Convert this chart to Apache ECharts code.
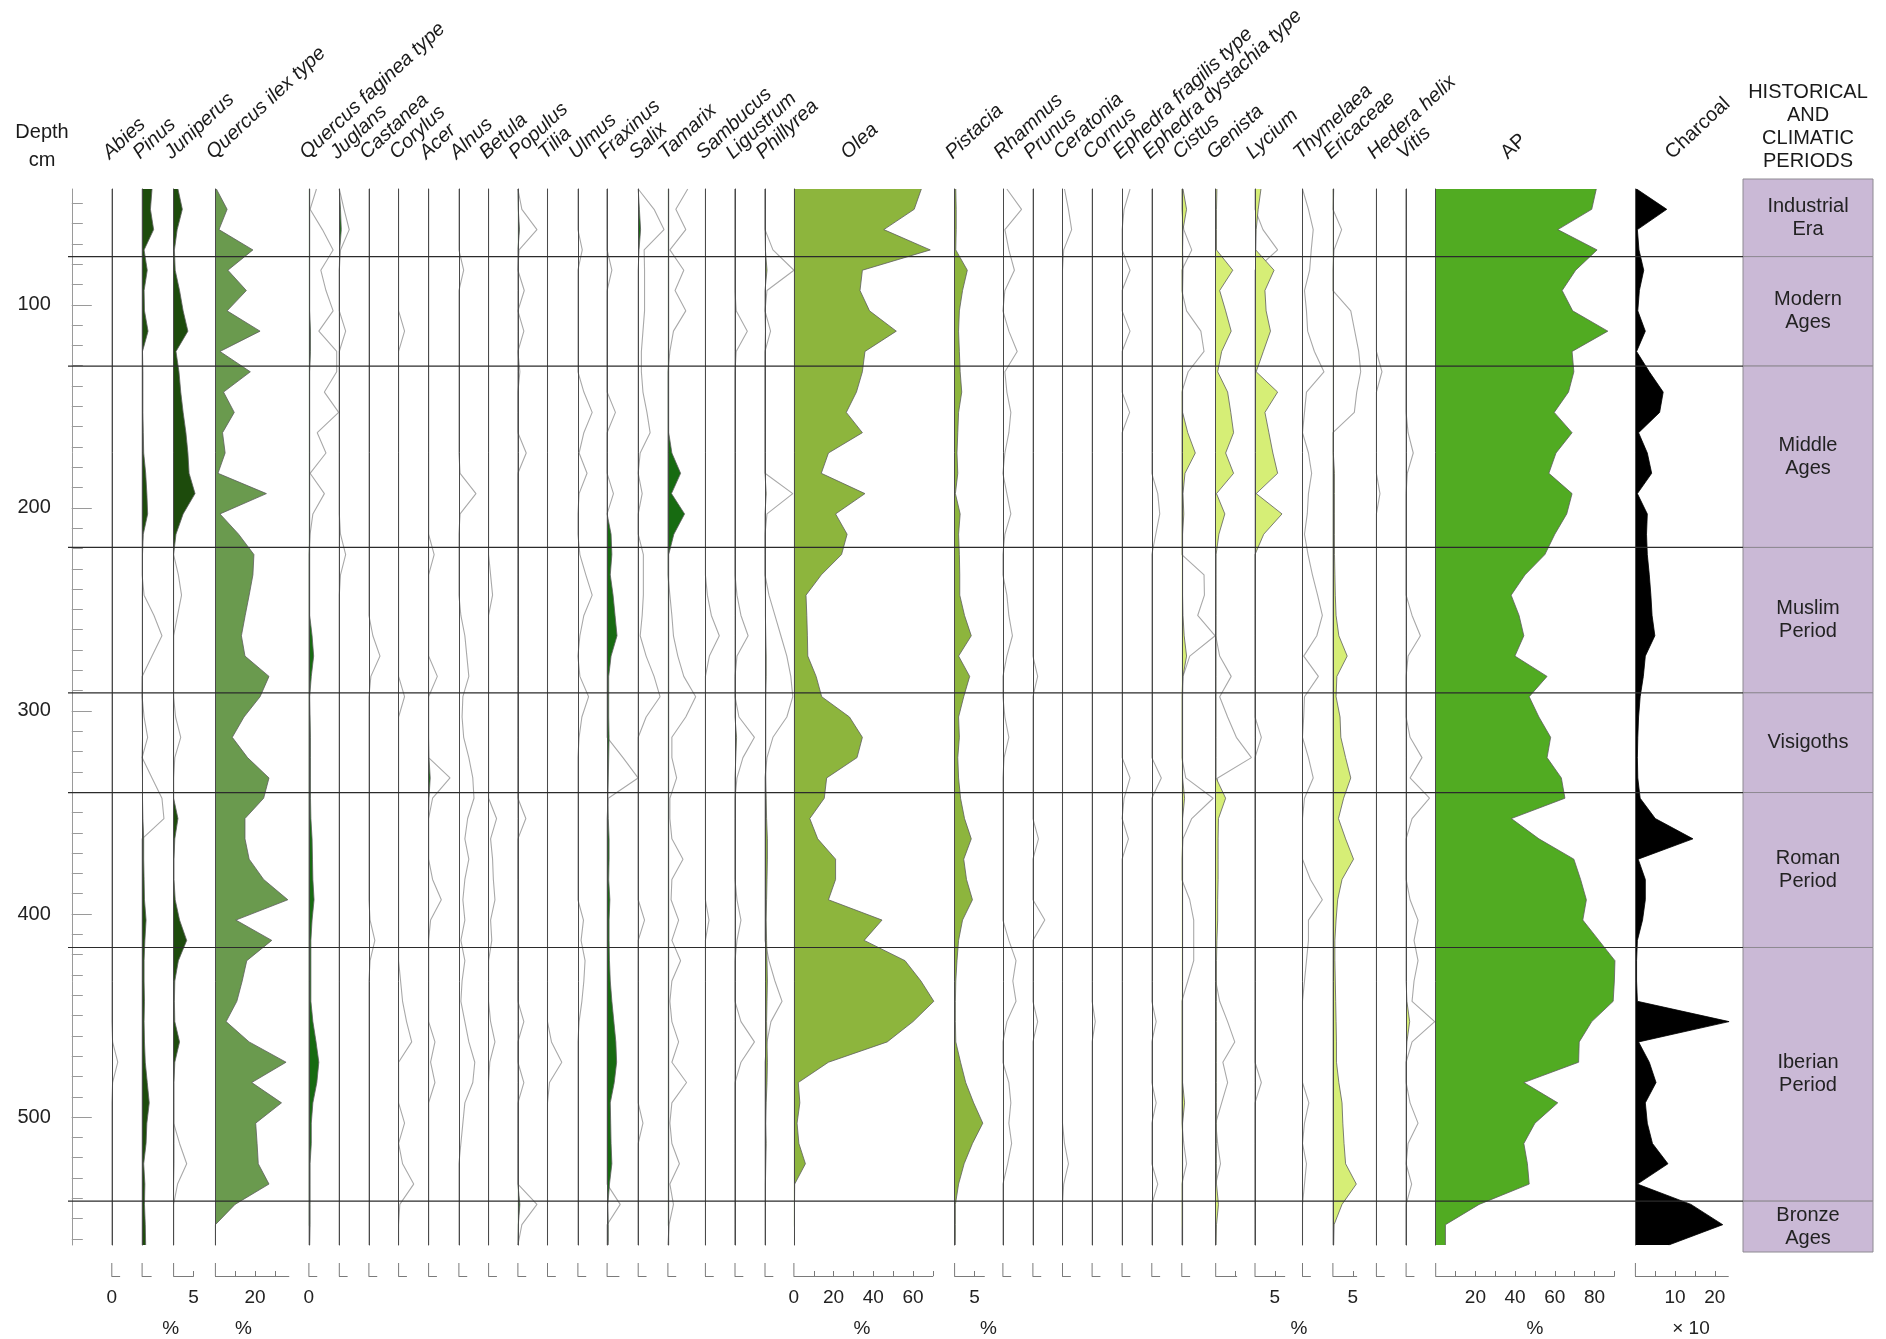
<!DOCTYPE html>
<html><head><meta charset="utf-8">
<script src="https://cdn.jsdelivr.net/npm/echarts@6/dist/echarts.min.js"></script>
<style>html,body{margin:0;padding:0;background:#fff}#c{width:1886px;height:1339px}</style>
</head><body><div id="c"></div>
<script>
// ---------------- DATA ----------------
// sample depths (cm)
const depths = [43,53,63,73,83,93,103,113,123,133, 143,153,163,173,183,193,203,213,223,233,
  243,253,263,273,283,293,303,313,323,333, 343,353,363,373,383,393,403,413,423,433,
  443,453,463,473,483,493,503,513,523,533, 543,553,563];
const depthLabels = [100,200,300,400,500];
// limits of historical / climatic periods (cm)
const boundaries = [76.3,130.2,219.5,291.1,340.2,416.5,541.4];
const periodNames = ['Industrial\nEra','Modern\nAges','Middle\nAges','Muslim\nPeriod','Visigoths','Roman\nPeriod','Iberian\nPeriod','Bronze\nAges'];

// percentages (fill curves)
const pinus = [2.5,2.1,2.9,0.5,1.3,0.5,0.6,1.5,0.1,0.2, 0.2,0.2,0.3,0.4,0.9,1.2,1.4,0.3,0.1,0.1,
  0.05,0.05,0.05,0.05,0.05,0,0.05,0.1,0,0.1, 0.1,0.2,0.4,0.4,0.5,0.6,1.0,0.7,0.5,0.5,
  0.6,0.5,0.6,0.8,1.3,1.8,1.2,1.0,0.4,0.7, 0.6,0.8,0.9];
const juniperus = [1.1,2.2,0.9,0.2,0.4,1.5,2.4,3.6,0.6,1.35, 1.8,2.4,3.1,3.6,3.9,5.4,2.4,0.6,0,0,
  0,0,0,0,0,0,0,0,0,0, 0,1.1,0.3,0.1,0.1,0.4,1.5,3.3,1.2,0.3,
  0.2,0.3,1.5,0.3,0.1,0.1,0.1,0.1,0.1,0, 0,0,0];
const quercusIlex = [0.5,5.9,1.8,18.9,6.3,15.6,5.9,22.5,2.3,17.6, 4.1,9.5,3.6,4.9,1.3,25.7,2.3,11.7,19.4,18.9,
  17,15,13.1,14.9,27,22.5,14.4,8.5,16.2,27, 24.3,14.9,14.9,17,24.3,36.5,10.3,28.4,15.8,13.5,
  10.8,5.4,17,35.6,18.3,33.3,20.3,21,21.6,27, 9.9,0,0];
const quercusFaginea = [0.2,0.2,0.2,0.2,0.2,0.2,0.2,0.4,0.4,0.2, 0.2,0.2,0.2,0.2,0.2,0.2,0.2,0.2,0.2,0.2,
  0.2,0.2,0.8,1.2,0.6,0.2,0.3,0.4,0.4,0.4, 0.4,0.5,0.8,0.9,1.0,1.3,0.8,0.5,0.5,0.5,
  0.5,1.0,1.8,2.5,2.0,1.0,0.6,0.6,0.3,0.3, 0.3,0.3,0.2];
const juglans = [0,0.3,0.5,0.1,0,0,0,0,0,0, 0,0,0,0,0,0,0,0,0,0, 0,0,0,0,0,0,0,0,0,0,
  0,0,0,0,0,0,0,0,0,0, 0,0,0,0,0,0,0,0,0,0, 0,0,0];
const acer = [0,0,0,0,0,0,0,0,0,0, 0,0,0,0,0,0,0,0,0,0, 0,0,0,0,0,0,0,0,0.1,0.4,
  0.1,0,0,0,0,0,0,0,0,0, 0,0,0,0,0,0,0,0,0,0, 0,0,0];
const populus = [0,0.1,0.4,0,0,0,0,0,0,0, 0,0,0,0,0,0,0,0,0,0, 0,0,0,0,0,0,0,0,0,0,
  0,0,0,0,0,0,0,0,0,0, 0,0,0,0,0,0,0,0,0,0, 0.5,0.1,0];
const fraxinus = [0,0,0,0,0,0,0,0,0,0, 0,0,0,0,0,0,0,1.0,1.2,0.8,
  1.5,2.0,2.5,1.0,0.4,0.4,0.4,0.5,0.4,0.3, 0.2,0.3,0.5,0.5,0.4,0.7,0.5,0.5,0.6,0.8,
  1.2,1.7,2.2,2.4,1.8,0.8,0.9,1.0,1.2,0.6, 0.2,0.3,0.3];
const salix = [0,0.3,0.6,0.2,0,0,0,0,0,0, 0,0,0,0,0,0,0,0,0,0, 0,0,0,0,0,0,0,0,0,0,
  0,0,0,0,0,0,0,0,0,0, 0,0,0,0,0,0,0,0,0,0, 0,0,0];
const tamarix = [0.2,0.2,0.2,0.2,0.2,0.2,0.2,0.2,0.2,0.2, 0.2,0.2,0.2,1.0,3.2,0.9,4.2,1.5,0.2,0.2,
  0.2,0.2,0.2,0.2,0.2,0.2,0.2,0.2,0.2,0.2, 0.2,0.2,0.2,0.2,0.2,0.2,0.2,0.2,0.2,0.2,
  0.2,0.2,0.2,0.2,0.2,0.2,0.2,0.2,0.2,0.2, 0.2,0.2,0.2];
const ligustrum = [0,0,0,0,0,0,0,0,0,0, 0,0,0,0,0,0,0,0,0,0, 0,0,0,0,0,0,0,0.4,0.2,0,
  0,0,0,0,0,0,0,0,0,0, 0,0,0,0,0,0,0,0,0,0, 0,0,0];
const phillyrea = [0,0,0,0.1,0.5,0,0,0.1,0,0, 0,0,0,0,0,0.3,0,0,0,0,
  0.1,0.1,0.2,0.3,0.3,0.2,0.2,0.2,0.2,0.2, 0.3,0.4,0.6,0.6,0.5,0.4,0.3,0.4,0.5,0.6,
  0.5,0.4,0.5,0.6,0.5,0.3,0.2,0.3,0.2,0.1, 0.1,0.1,0.1];
const olea = [64.2,60.6,45.3,68.7,34.5,33.3,38.1,51.6,35.8,34.5, 31.5,26.4,34.5,17.4,13.8,35.8,21,26.8,24,13.8,
  6.1,6.5,6.8,7,11.2,14,28,34.5,31.8,16.5, 15.3,8,12,21,21,17.4,44.4,35.4,56,64,
  70.5,60,47,17.4,2.2,3,1.6,2.5,5.8,0.4, 0.3,0.3,0.3];
const pistacia = [0.3,0.4,0.4,0.3,3.2,2.0,1.2,1.0,1.2,1.4, 1.8,1.0,0.8,0.6,0.8,0.2,1.4,1.0,1.2,1.3,
  1.3,2.5,4.2,1.0,3.8,2.3,1.0,1.2,0.8,1.0, 1.5,2.5,4.2,2.3,3.0,4.5,2.0,1.0,0.6,0.3,
  0.2,0.2,0.3,1.5,2.8,4.8,7.1,4.5,2.4,1.0, 0.2,0.2,0.2];
const cistus = [0.3,1.2,0.3,0.2,0.3,0.2,0.2,0.2,0.2,0.2, 0.2,0.2,1.5,3.4,0.8,0.3,0.5,0.2,0.2,0.2,
  0.2,0.3,0.6,1.2,0.3,0.2,0.2,0.2,0.2,0.2, 0.7,0.2,0.2,0.2,0.2,0.2,0.2,0.2,0.2,0.2,
  0.2,0.2,0.2,0.2,0.2,0.7,0.2,0.2,0.2,0.2, 0.2,0.2,0.2];
const genista = [0.3,0.2,0.2,0.2,4.3,1.0,2.5,3.9,1.5,0.5, 3.0,3.8,4.5,2.5,4.5,0.2,2.3,0.8,0.1,0.1,
  0.1,0.1,0.1,0.1,0.1,0.1,0.1,0.1,0.1,0.1, 2.5,0.7,0.6,0.6,0.6,0.5,0.5,0.3,0.2,0.2,
  0.2,0.2,0.2,0.2,0.2,0.2,0.2,0.2,0.2,0.2, 0.7,0.2,0.1];
const lycium = [1.5,0.8,0.3,0.2,4.8,2.5,2.8,3.9,2.1,0.3, 5.7,2.5,3.5,4.5,5.7,0.3,6.8,2.2,0,0,
  0,0,0,0,0,0,0,0,0,0, 0,0,0,0,0,0,0,0,0,0, 0,0,0,0,0,0,0,0,0,0, 0,0,0];
const ericaceae = [0.2,0.1,0.1,0.1,0.1,0.1,0.1,0.1,0.1,0.1, 0.1,0.1,0.1,0.1,0.4,0.4,0.4,0.4,0.4,0.5,
  0.6,0.8,1.5,3.6,1.0,0.8,1.8,2.0,3.2,4.5, 2.7,1.4,3.2,5.2,2.3,1.2,0.8,0.5,0.5,0.6,
  0.7,0.8,0.9,0.9,1.5,2.3,2.5,2.8,3.2,5.9, 2.3,0.3,0.2];
const vitis = [0,0,0,0,0,0,0,0,0,0, 0,0,0,0,0,0,0,0,0,0, 0,0,0,0,0,0,0,0,0,0,
  0,0,0,0,0,0,0,0,0,0, 0.2,0.9,0.2,0,0,0,0,0,0,0, 0,0,0];
const ap = [80.9,78.6,61.5,81.3,70.5,63.7,69,86.7,68.7,69.6, 66.9,59.7,68.7,60.6,57,68.7,66,60,55,45,
  38,42,44.4,39.9,56.1,47.1,52,57.9,56.1,63.3, 65.1,38.1,52,69.6,73,75.9,74.1,82.2,90.3,90,
  89.4,78.6,72.3,72,44.4,61.5,50,44.4,46.2,47.1, 21.9,4.9,4.9];
// charcoal (x 10)
const charcoal = [0.3,7.9,0.5,0.9,2.1,1.0,0.6,2.5,0.3,3.5, 7.0,6.1,0.8,3.0,4.1,0.5,3.0,2.8,3.0,3.5,
  3.9,4.2,4.9,2.5,2.0,1.2,0.8,0.6,0.5,0.6, 1.2,5.0,14.5,0.7,2.5,2.5,1.8,0.5,0.3,0.3,
  0.5,23.6,0.8,3.5,5.2,2.5,3.0,4.3,8.2,0.5, 14,22,8.4];

// exaggerated curves (grey outlines)
const abiesEx = [0,0,0,0,0,0,0,0,0,0, 0,0,0,0,0,0,0,0,0,0, 0,0,0,0,0,0,0,0,0,0,
  0,0,0,0,0,0,0,0,0,0, 0,0,0.2,1.5,0.2,0,0,0,0,0, 0,0,0];
const pinusEx = [0,0,0,0,0,0,0,0,0,0, 0,0,0,0,0,0,0,0,0,0, 0.5,3,5,2.5,0,0,0.5,1.4,0,2.5,
  5,5.5,0,0,0,0,0,0,0,0, 0,0,0,0,0,0,0,0,0,0, 0,0,0];
const juniperusEx = [0,0,0,0,0,0,0,0,0,0, 0,0,0,0,0,0,0,0,0,1.2, 2.0,1.0,0,0,0,0,0.5,1.8,0.3,0,
  0,0,0,0,0,0,0,0,0,0, 0,0,0,0,0,0,0,1.5,3.3,1.0, 0,0,0];
const quercusFagineaEx = [1.9,0.3,3.4,6.1,3.0,4.3,6.1,2.5,7.0,7.0, 3.9,7.5,2.1,4.3,0.3,3.9,1.0,0.3,0,0,
  0,0,0,0,0,0,0,0,0,0, 0,0,0,0,0,0,0,0,0,0, 0,0,0,0,0,0,0,0,0,0, 0,0,0];
const juglansEx = [0,1.2,2.5,0.3,0,0,0,1.6,0,0, 0,0,0,0,0,0,0,0.3,1.6,0.3, 0,0,0,0,0,0,0,0,0,0,
  0,0,0,0,0,0,0,0,0,0, 0,0,0,0,0,0,0,0,0,0, 0,0,0];
const castaneaEx = [0,0,0,0,0,0,0,0,0,0, 0,0,0,0,0,0,0,0,0,0, 0,0,1.0,2.8,0.5,0,0,0,0,0,
  0,0,0,0,0,0,0.3,1.5,0.3,0, 0,0,0,0,0,0,0,0,0,0, 0,0,0];
const corylusEx = [0,0,0,0,0,0,0,1.5,0,0, 0,0,0,0,0,0,0,0,0,0, 0,0,0,0,0,1.5,0,0,0,0,
  0,0,0,0,0,0,0,0,0,0.5, 1.0,2.0,3.3,0,0,0,1.5,0,1.0,3.8, 0.3,0,0];
const acerEx = [0,0,0,0,0,0,0,0,0,0, 0,0,0,0,0,0,0,0,1.4,0, 0,0,0,0,2.2,0,0,0,0,5.4,
  1.0,0,0,0,1.0,3.2,0.5,0,0,0, 0,0,1.6,0.5,1.6,0,0,0,0,0, 0,0,0];
const alnusEx = [0,0,0,0,1.2,0,0,0,0,0, 0,0,0,0,0.3,4.3,0.3,0,0,0, 0,0.5,1.5,2.0,2.5,1.0,0.8,1.2,2.5,3.5,
  3.8,2.2,1.5,2.5,1.5,1.0,1.5,0.5,1.5,0.8, 0.5,1.5,2.5,4.0,3.5,1.5,1.0,0.5,0,0, 0,0,0];
const betulaEx = [0,0,0,0,0,0,0,0,0,0, 0,0,0,0,0,0,0,0,0,0.5, 1.0,0,0,0,0,0,0,0,0,0,
  0,2.0,0.5,1.0,1.2,1.6,0.5,0.8,0,0, 0,0.5,1.6,0.3,0,0,0,0,0,0, 0,0,0];
const populusEx = [0,1.0,4.8,0.3,0,1.6,0,1.5,0,0.5, 0,0,0,2.1,0,0,0,0,0,0, 0,0,0,0,0,0,0,0,0,0,
  0,2.0,0,0,0,0,0,0,0,0, 0,1.5,0,0,1.5,0,0,0,0,0, 4.8,1.0,0];
const tiliaEx = [0,0,0,0,0,0,0,0,0,0, 0,0,0,0,0,0,0,0,0,0, 0,0,0,0,0,0,0,0,0,0,
  0,0,0,0,0,0,0,0,0,0, 0,0,1.0,3.6,0.5,0,0,0,0,0, 0,0,0];
const ulmusEx = [0,0,0,1.1,0,0,0,0,0,0, 1.5,3.6,1.5,0.3,2.3,0.3,0,0,0.5,2.0, 3.6,1.5,0.5,0,0.5,2.7,1.0,0.3,0,0,
  0,0,0,0,0,0,1.4,0.8,1.8,1.5, 1.0,0.3,0,0,0,0,0,0,0,0, 0,0,0];
const fraxinusEx = [0,0,0,0,1.2,0,0,0,0,0, 0,2.1,0,0,0,1.6,0,0,0,0, 0,0,0,0,0,0,0,0,4.0,7.8,
  0.3,0,0,0,0,0,0,0,0,0, 0,0,0,0,0,0,0,0,0,0, 3.3,0,0];
const salixEx = [0,4.0,6.5,1.5,1.6,1.6,1.6,1.2,0.8,0.8, 1.2,2.2,3.0,0.5,0,1.0,0,0,1.3,1.3,
  1.3,1.0,0.5,2.0,4.0,5.5,2.0,0,0,0, 0,0,0,0,0,0,1.6,0,0,0, 0,0,0,0,0,0,1.2,0,0,0, 0,0,0];
const tamarixEx = [5.0,2.0,4.5,0.5,4.0,1.8,4.5,1.4,0.5,0, 0,0,0,0,0,0,0,0,0,0,
  0.5,1.0,1.4,2.5,4.0,7.0,4.5,1.0,1.0,2.2, 0.5,0.5,1.0,3.8,1.0,0.8,2.7,1.0,3.2,1.0,
  0.5,1.0,2.7,1.0,4.7,1.0,0.5,1.0,2.9,0.5, 1.4,0.3,0];
const sambucusEx = [0,0,0,0,0,0,0,0,0,0, 0,0,0,0,0,0,0,0,0,0, 0.5,1.5,3.5,1.0,0,0,0,0,0,0,
  0,0,0,0,0,0,0.9,0,0,0, 0,0,0,0,0,0,0,0,0,0, 0,0,0];
const ligustrumEx = [0,0,0,0,0,0,0.3,3.1,0.3,0, 0,0,0,0,0,0,0,0,0,0, 0.5,1.5,3.3,0.5,0,0,1.0,4.9,2.0,0.5,
  0,0,0,0,0,0.5,1.5,0.5,0,0, 0,1.5,4.9,1.5,0,0,0,0,0,0, 0,0,0];
const phillyreaEx = [0,0,0,2.0,7.3,0.5,0,1.4,0,0, 0,0,0,0,0,7.0,0.5,0,0,0,
  1.0,2.5,4.0,5.5,6.5,7.0,5.5,2.0,0.5,0, 0,0,0,0,0,0,0,0,1.0,2.5, 4.3,1.5,0.5,0,0,0,0,0,0,0, 0,0,0];
const rhamnusEx = [1.0,4.7,0.5,1.5,2.9,0.5,0,1.5,3.6,0.5, 1.0,2.0,1.5,0.5,0,1.0,2.0,0.5,0,0,
  1.0,1.5,2.4,1.0,0,0,0.5,1.5,0.3,0, 0,0,0,0,0,0,0,1.5,3.3,2.5, 3.3,1.0,0,0,1.5,2.0,1.5,2.2,1.2,0, 0,0,0];
const prunusEx = [0,0,0,0,0,0,0,0,0,0, 0,0,0,0,0,0,0,0,0,0, 0,0,0,0,1.2,0,0,0,0,0,
  0,0,1.4,0,0,0,3.0,0,0,0, 0,1.2,0,0,0,0,0,0,0,0, 0,0,0];
const ceratoniaEx = [0.5,1.5,2.3,0.3,0,0,0,0,0,0, 0,0,0,0,0,0,0,0,0,0, 0,0,0,0,0,0,0,0,0,0,
  0,0,0,0,0,0,0,0,0,0, 0,0,0,0,0,0,0,0.5,1.5,0.3, 0,0,0];
const cornusEx = [0,0,0,0,0,0,0,0,0,0, 0,0,0,0,0,0,0,0,0,0, 0,0,0,0,0,0,0,0,0,0,
  0,0,0,0,0,0,0,0,0,0, 0,0.8,0,0,0,0,0,0,0,0, 0,0,0];
const ephedraFragilisEx = [2.0,0.5,0,0,2.0,0,0,2.0,0,0, 0,1.9,0,0,0,0,0,0,0,0, 0,0,0,0,0,0,0,0,0,2.0,
  0.5,0,1.6,0,0,0,0,0,0,0, 0,0,0,0,0,0,0,0,0,0, 0,0,0];
const ephedraDystachiaEx = [0,0,0,0,0,0,0,0,0,0, 0,0,0,0,0,1.5,2.0,1.0,0,0, 0,0,0,0,0,0,0,0,0,2.4,
  0,0,0,0,0,0,0,0,0,0, 0,1.1,0,0,0,1.1,0,0,0,1.5, 0,0,0];
const cistusEx = [0,0,0.5,2.5,0,0,1.2,4.8,5.6,1.6, 0,0,0,0,0,0,0,0,0,5.6,
  5.7,4.0,8.4,2.0,0.3,0,0,0,0,1.0, 7.9,2.5,0.3,0,0,2.0,3.0,3.0,3.0,1.5, 0,0,0,0,0,0,0,0.5,1.2,0, 0,0,0];
const genistaEx = [0,0,0,0,0,0,0,0,0,0, 0,0,0,0,0,0,0,0,0,0, 0,0,0,1.0,3.9,1.0,3.0,5.2,9.0,0.5,
  0,0,0,0,0,0,0,0,0,0, 1.0,3.0,4.8,1.8,3.0,1.5,0,0.5,1.2,0, 0,0,0];
const lyciumEx = [0,0,2.0,5.7,0,0,0,0,0,0, 0,0,0,0,0,0,0,0,0,0, 0,0,0,0,0,0,0,1.6,0,0,
  0,0,0,0,0,0,0,0,0,0, 0,0,0,0,1.6,0,0,0,0,0, 0,0,0];
const thymelaeaEx = [0,1.5,2.7,2.2,1.8,0.5,1.0,1.3,3.0,5.4, 1.0,0.5,0,1.5,2.3,1.5,1.2,0.5,1.4,2.5,
  3.8,5.0,3.6,0.3,4.0,0.5,0.3,0,1.5,2.7, 0.5,0,0,0,2.0,5.0,1.5,1.5,1.0,0.5, 0,0,0,0,0,1.6,0.5,0,1.0,0.5, 0,0,0];
const ericaceaeEx = [0,0,2.2,0.3,0,0,4.5,5.5,6.5,7.0, 6.0,5.4,0,0,0,0,0,0,0,0, 0,0,0,0,0,0,0,0,0,0,
  0,0,0,0,0,0,0,0,0,0, 0,0,0,0,0,0,0,0,0,0, 0,0,0];
const hederaEx = [0,0,0,0,0,0,0,0,0,1.4, 0,0,0,0,0,0.9,0,0,0,0, 0,0,0,0,0,0,0,0,0,0,
  0,0,0,0,0,0,0,0,0,0, 0,0,0,0,0,0,0,0,0,0, 0,0,0];
const vitisEx = [0,0,0,0,0,0,0,0,0,0, 0,0,0.5,1.8,0.3,0,0,0,0,0, 0,1.5,3.6,0.5,0,0,0,1.0,4.0,1.0,
  5.9,1.5,0,0,0,1.0,3.0,2.0,3.0,2.0, 1.5,7.2,1.5,0,0,1.0,3.0,0.5,0,1.4, 0,0,0];

// ---------------- LAYOUT ----------------
const FONT = '"Liberation Sans", Arial, Helvetica, sans-serif';
const TOP = 189, PLOT_H = 1056, AXIS_OFFSET = 31;
const MINOR = 3.97, MAJOR = 1.985;
const C_DARK = '#1d4b0c', C_QI = '#6a9a4e', C_MID = '#176b11', C_OLIVE = '#8db53d',
      C_LIGHT = '#d6ee76', C_AP = '#51ab22', C_CHAR = '#000000';
const S = {px: MINOR, max: 2, iv: 5};
const columns = [
  {name:'Abies', x:111.8, ...S, labels:[0], ex:abiesEx},
  {name:'Pinus', x:142.1, ...S, max:2.3, fill:pinus, color:C_DARK, ex:pinusEx},
  {name:'Juniperus', x:173.6, ...S, max:5, fill:juniperus, color:C_DARK, ex:juniperusEx, ticks:true, labels:[5]},
  {name:'Quercus ilex type', x:215.4, px:MAJOR, max:37, iv:10, ticks:true, labels:[20], fill:quercusIlex, color:C_QI},
  {name:'Quercus faginea type', x:308.9, ...S, labels:[0], fill:quercusFaginea, color:C_MID, ex:quercusFagineaEx},
  {name:'Juglans', x:339.3, ...S, fill:juglans, color:C_MID, ex:juglansEx},
  {name:'Castanea', x:368.9, ...S, ex:castaneaEx},
  {name:'Corylus', x:398.6, ...S, ex:corylusEx},
  {name:'Acer', x:428.6, ...S, fill:acer, color:C_MID, ex:acerEx},
  {name:'Alnus', x:458.9, ...S, ex:alnusEx},
  {name:'Betula', x:488.6, ...S, ex:betulaEx},
  {name:'Populus', x:517.9, ...S, fill:populus, color:C_MID, ex:populusEx},
  {name:'Tilia', x:547.5, ...S, ex:tiliaEx},
  {name:'Ulmus', x:577.9, ...S, ex:ulmusEx},
  {name:'Fraxinus', x:607.1, ...S, max:3, fill:fraxinus, color:C_MID, ex:fraxinusEx},
  {name:'Salix', x:638.2, ...S, fill:salix, color:C_MID, ex:salixEx},
  {name:'Tamarix', x:667.9, ...S, fill:tamarix, color:C_MID, ex:tamarixEx},
  {name:'Sambucus', x:705.4, ...S, ex:sambucusEx},
  {name:'Ligustrum', x:735.0, ...S, fill:ligustrum, color:C_OLIVE, ex:ligustrumEx},
  {name:'Phillyrea', x:765.0, ...S, fill:phillyrea, color:C_OLIVE, ex:phillyreaEx},
  {name:'Olea', x:793.9, px:MAJOR, max:70, iv:10, ticks:true, labels:[0,20,40,60], fill:olea, color:C_OLIVE, dx:57},
  {name:'Pistacia', x:954.6, ...S, max:7.5, ticks:true, labels:[5], fill:pistacia, color:C_OLIVE},
  {name:'Rhamnus', x:1002.9, ...S, ex:rhamnusEx},
  {name:'Prunus', x:1032.9, ...S, ex:prunusEx},
  {name:'Ceratonia', x:1062.5, ...S, ex:ceratoniaEx},
  {name:'Cornus', x:1092.1, ...S, ex:cornusEx},
  {name:'Ephedra fragilis type', x:1122.1, ...S, ex:ephedraFragilisEx},
  {name:'Ephedra dystachia type', x:1151.8, ...S, ex:ephedraDystachiaEx},
  {name:'Cistus', x:1181.8, ...S, fill:cistus, color:C_LIGHT, ex:cistusEx},
  {name:'Genista', x:1215.7, ...S, max:5.3, ticks:true, fill:genista, color:C_LIGHT, ex:genistaEx},
  {name:'Lycium', x:1255.0, ...S, max:7.5, ticks:true, labels:[5], fill:lycium, color:C_LIGHT, ex:lyciumEx},
  {name:'Thymelaea', x:1302.5, ...S, ex:thymelaeaEx},
  {name:'Ericaceae', x:1332.9, ...S, max:6, ticks:true, labels:[5], fill:ericaceae, color:C_LIGHT, ex:ericaceaeEx},
  {name:'Hedera helix', x:1376.4, ...S, ex:hederaEx},
  {name:'Vitis', x:1406.1, ...S, fill:vitis, color:C_LIGHT, ex:vitisEx},
  {name:'AP', x:1435.7, px:MAJOR, max:90, iv:10, ticks:true, labels:[20,40,60,80], fill:ap, color:C_AP, dx:75, upright:true},
  {name:'Charcoal', x:1635.4, px:MINOR, max:23.4, iv:5, ticks:true, labels:[10,20], fill:charcoal, color:C_CHAR, dx:40, upright:true}
];
const unitLabels = [
  {t:'%', x:170.8}, {t:'%', x:243.5}, {t:'%', x:862}, {t:'%', x:988.5},
  {t:'%', x:1299}, {t:'%', x:1535}, {t:'\u00d7 10', x:1691}
];

// ---------------- BUILD ----------------
const grids = [], xAxes = [], yAxes = [], series = [], gfx = [];
const ROT = 43 * Math.PI / 180;

columns.forEach((c, k) => {
  grids.push({left: c.x, top: TOP, width: c.px * c.max, height: PLOT_H});
  const ticks = [];
  if (c.ticks) for (let v = c.iv; v <= c.max + 1e-9; v += c.iv) ticks.push(v);
  xAxes.push({
    gridIndex: k, type: 'value', min: 0, max: c.max, position: 'bottom', offset: AXIS_OFFSET,
    axisLine: {show: true, onZero: false, lineStyle: {color: '#7a7a7a', width: 1}},
    axisTick: c.ticks ? {show: true, inside: true, length: 5, customValues: ticks, lineStyle: {color: '#7a7a7a'}} : {show: false},
    axisLabel: c.labels ? {show: true, customValues: c.labels, margin: 12, fontSize: 19, color: '#222', fontFamily: FONT} : {show: false},
    splitLine: {show: false}
  });
  yAxes.push({
    gridIndex: k, type: 'category', data: depths, inverse: true, boundaryGap: false, z: 6,
    axisLine: {show: true, lineStyle: {color: '#4a4a4a', width: 1}},
    axisTick: {show: false}, axisLabel: {show: false}, splitLine: {show: false}
  });
  if (c.ex) series.push({
    type: 'line', xAxisIndex: k, yAxisIndex: k, data: c.ex, symbol: 'none', clip: false, silent: true, z: 2,
    lineStyle: {color: '#a9a9a9', width: 1.1}
  });
  if (c.fill) series.push({
    type: 'line', xAxisIndex: k, yAxisIndex: k, data: c.fill, symbol: 'none', clip: false, silent: true, z: 3,
    lineStyle: {color: c.color === C_CHAR ? '#000' : '#5e5e5e', width: 0.8},
    areaStyle: {color: c.color, opacity: 1}
  });
  // taxon title
  gfx.push({type: 'text', x: c.x + (c.dx !== undefined ? c.dx : 1), y: 163, rotation: ROT, z: 50,
    style: {text: c.name, x: 0, y: 0, textAlign: 'left', textVerticalAlign: 'bottom',
      font: (c.upright ? '' : 'italic ') + '20px ' + FONT, fill: '#1a1a1a'}});
  // zero mark of the bottom scale
  const yAx = TOP + PLOT_H + AXIS_OFFSET;
  gfx.push({type: 'line', z: 50, shape: {x1: c.x, y1: yAx - 13, x2: c.x, y2: yAx}, style: {stroke: '#7a7a7a', lineWidth: 1}});
});

// depth axis
let gi = columns.length;
const minorTicks = [];
for (let d = 50; d <= 560; d += 10) minorTicks.push(d);
grids.push({left: 71.8, top: TOP, width: 1, height: PLOT_H});
xAxes.push({gridIndex: gi, type: 'value', min: 0, max: 1, show: false});
yAxes.push({gridIndex: gi, type: 'value', min: 43, max: 563, inverse: true, position: 'left',
  axisLine: {show: true, lineStyle: {color: '#9a9a9a', width: 1}},
  axisTick: {show: true, inside: true, length: 11, customValues: minorTicks, lineStyle: {color: '#9a9a9a'}},
  axisLabel: {show: false}, splitLine: {show: false}});
yAxes.push({gridIndex: gi, type: 'value', min: 43, max: 563, inverse: true, position: 'left',
  axisLine: {show: false},
  axisTick: {show: true, inside: true, length: 20, customValues: depthLabels, lineStyle: {color: '#9a9a9a'}},
  axisLabel: {show: true, customValues: depthLabels, margin: 21, fontSize: 20, color: '#222', fontFamily: FONT},
  splitLine: {show: false}});
series.push({type: 'line', xAxisIndex: gi, yAxisIndex: yAxes.length - 1, data: [], silent: true});

// period boundary lines
gi++;
grids.push({left: 68, right: 143, top: TOP, height: PLOT_H});
xAxes.push({gridIndex: gi, type: 'value', min: 0, max: 1, show: false});
yAxes.push({gridIndex: gi, type: 'value', min: 43, max: 563, inverse: true, show: false});
const bIdx = yAxes.length - 1;
boundaries.forEach(b => series.push({
  type: 'line', xAxisIndex: xAxes.length - 1, yAxisIndex: bIdx, data: [[0, b], [1, b]],
  symbol: 'none', silent: true, z: 10, lineStyle: {color: '#2b2b2b', width: 1.2}
}));

// periods column
gi++;
grids.push({left: 1743, top: 179, width: 130, height: 1073});
xAxes.push({gridIndex: gi, type: 'value', min: 0, max: 1, show: false});
yAxes.push({gridIndex: gi, type: 'value', min: 38.08, max: 566.45, inverse: true, show: false});
series.push({
  type: 'custom', xAxisIndex: xAxes.length - 1, yAxisIndex: yAxes.length - 1, silent: true, z: 4,
  data: periodNames.map((n, i) => [0, i]),
  renderItem: (params, api) => {
    const i = params.dataIndex, cs = params.coordSys;
    const yTop = i === 0 ? cs.y : api.coord([0, boundaries[i - 1]])[1];
    const yBot = i === periodNames.length - 1 ? cs.y + cs.height : api.coord([0, boundaries[i]])[1];
    return {type: 'group', children: [
      {type: 'rect', shape: {x: cs.x, y: yTop, width: cs.width, height: yBot - yTop},
        style: {fill: '#cab9d6', stroke: '#8e8a92', lineWidth: 1}},
      {type: 'text', style: {text: periodNames[i], x: cs.x + cs.width / 2, y: (yTop + yBot) / 2,
        textAlign: 'center', textVerticalAlign: 'middle', font: '20px ' + FONT, fill: '#222', lineHeight: 23}}
    ]};
  }
});

// header and unit texts
gfx.push({type: 'text', x: 42, y: 146, z: 50, style: {text: 'Depth\ncm', textAlign: 'center', textVerticalAlign: 'middle',
  font: '20px ' + FONT, fill: '#1a1a1a', lineHeight: 28}});
gfx.push({type: 'text', x: 1808, y: 127, z: 50, style: {text: 'HISTORICAL\nAND\nCLIMATIC\nPERIODS', textAlign: 'center',
  textVerticalAlign: 'middle', font: '20px ' + FONT, fill: '#1a1a1a', lineHeight: 23}});
unitLabels.forEach(u => gfx.push({type: 'text', x: u.x, y: 1329, z: 50, style: {text: u.t, textAlign: 'center',
  textVerticalAlign: 'middle', font: '19px ' + FONT, fill: '#222'}}));

const chart = echarts.init(document.getElementById('c'), null, {renderer: 'canvas'});
chart.setOption({
  animation: false,
  backgroundColor: '#ffffff',
  textStyle: {fontFamily: FONT},
  grid: grids, xAxis: xAxes, yAxis: yAxes, series: series,
  graphic: {elements: gfx}
});
</script></body></html>
